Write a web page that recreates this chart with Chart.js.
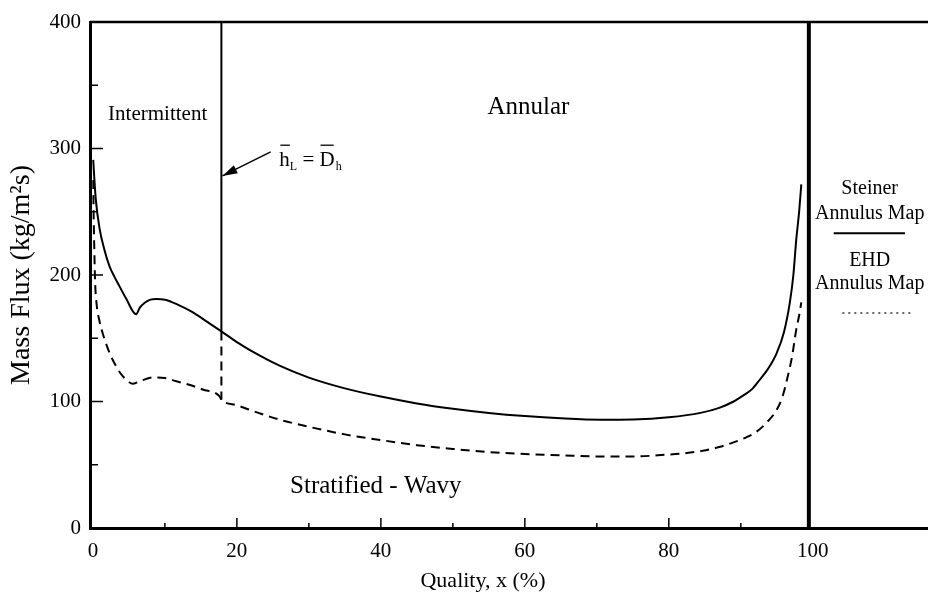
<!DOCTYPE html>
<html>
<head>
<meta charset="utf-8">
<script src="https://cdn.jsdelivr.net/npm/chart.js@4.4.0/dist/chart.umd.min.js"></script>
<style>
  html, body { margin: 0; padding: 0; background: #fff; }
  canvas { display: block; }
</style>
</head>
<body>
<canvas id="flowMap" width="928" height="593"></canvas>
<script>
// Steiner annulus map boundary (solid)
const steinerX = [0.05, 0.15, 0.4, 0.95, 1.6, 2.3, 3.0, 3.7, 4.65, 6.0, 6.5, 7.2, 8.0, 8.8, 10, 12, 13.9, 16, 17.85,
  20, 23, 26, 30, 35, 40, 45, 50, 55, 60, 65, 70.5, 75, 80, 84.4, 87, 89, 90.4, 91.6, 92.6, 93.8, 95.0,
  96.0, 96.8, 97.3, 97.7, 98.1, 98.4]
const steinerY = [291, 281, 260, 236, 220, 207, 198.5, 191, 181, 169, 174, 178, 180.5, 181, 180.5, 176, 170.5, 162.5, 155.4,
  147, 136.8, 128.1, 118.9, 110.4, 103.9, 98.5, 94.3, 91, 88.5, 86.7, 85.6, 85.8, 87.5, 91, 95, 100, 105, 110, 117, 126, 138.5,
  155, 178, 200, 228, 250, 271.6]

// EHD annulus map boundary (dashed)
const ehdX = [0.05, 0.1, 0.2, 0.3, 0.5, 0.9, 1.36, 2.0, 2.75, 3.8, 5.1, 5.5, 6.5, 8.3, 10, 11.6, 13.5, 15.25, 17.6,
  17.85, 20, 23, 25.9, 30, 35, 40, 45, 50, 55, 60, 65, 70.5, 75, 79.7, 82, 84.7, 87, 88.9, 90.7, 92.2, 93.7,
  95.0, 95.8, 96.4, 97.1, 97.7, 98.1, 98.4]
const ehdY = [275, 250, 220, 196, 178, 164, 154, 143, 133, 122.5, 115, 114, 116, 119, 118.5, 116, 113, 109.5, 104,
  101.4, 97, 91, 85.7, 80, 74, 69.5, 65.5, 62.5, 60, 58.5, 57.5, 56.5, 56.5, 58, 59, 61, 64, 67.5, 71.5, 76.2, 84,
  93.6, 104, 117, 135, 156.8, 168, 178.4]

// transition line hL = Dh
const transX = [17.85, 17.85]
const transSolidY = [400, 155.4]
const transDashY = [155.4, 101.4]

// x = 100 % boundary
const edgeX = [99.45, 99.45]
const edgeY = [0, 400]

const xTickValues = [0, 10, 20, 30, 40, 50, 60, 70, 80, 90, 100]
const yTickValues = [0, 50, 100, 150, 200, 250, 300, 350, 400]

const serif = "'Liberation Serif', 'DejaVu Serif', serif"

const pts = (xs, ys) => xs.map((v, i) => ({x: v, y: ys[i]}))

const line = (ctx, x1, y1, x2, y2) => {
    ctx.beginPath()
    ctx.moveTo(x1, y1)
    ctx.lineTo(x2, y2)
    ctx.stroke()
}

const mapDecor = {
    id: 'mapDecor',
    afterDatasetsDraw(chart) {
        const {ctx, chartArea: a, scales: {x, y}} = chart
        const px = v => x.getPixelForValue(v)
        const py = v => y.getPixelForValue(v)
        ctx.save()
        ctx.strokeStyle = '#000'
        ctx.fillStyle = '#000'

        // top frame line
        ctx.lineWidth = 2.5
        line(ctx, a.left, a.top, a.right, a.top)

        // inward ticks
        ctx.lineWidth = 1.5
        y.ticks.forEach(t => {
            if (t.value === 0) return
            const len = t.value % 100 === 0 ? 13 : 8
            line(ctx, a.left, py(t.value), a.left + len, py(t.value))
        })
        x.ticks.forEach(t => {
            if (t.value === 0 || t.value === 100) return
            const len = t.value % 20 === 0 ? 10 : 5
            line(ctx, px(t.value), a.bottom, px(t.value), a.bottom - len)
        })

        // region labels
        ctx.textBaseline = 'alphabetic'
        ctx.textAlign = 'center'
        ctx.font = '21px ' + serif
        ctx.fillText('Intermittent', px(9.0), py(322.5))
        ctx.font = '25px ' + serif
        ctx.fillText('Annular', px(60.5), py(327.5))
        ctx.fillText('Stratified - Wavy', px(39.3), py(28))

        // x axis title
        ctx.font = '22px ' + serif
        ctx.fillText('Quality, x (%)', 483, 587)

        // arrow to the transition line
        const ax1 = px(24.7), ay1 = py(297.3), ax2 = px(17.85) + 1, ay2 = py(278.3)
        ctx.lineWidth = 1.5
        line(ctx, ax1, ay1, ax2, ay2)
        const ang = Math.atan2(ay2 - ay1, ax2 - ax1)
        ctx.beginPath()
        ctx.moveTo(ax2, ay2)
        ctx.lineTo(ax2 - 15 * Math.cos(ang) + 4.5 * Math.sin(ang), ay2 - 15 * Math.sin(ang) - 4.5 * Math.cos(ang))
        ctx.lineTo(ax2 - 15 * Math.cos(ang) - 4.5 * Math.sin(ang), ay2 - 15 * Math.sin(ang) + 4.5 * Math.cos(ang))
        ctx.closePath()
        ctx.fill()

        // h_L = D_h with overbars
        ctx.textAlign = 'left'
        let cx = px(25.9)
        const base = py(286)
        ctx.font = '21px ' + serif
        const hW = ctx.measureText('h').width
        ctx.fillText('h', cx, base)
        ctx.lineWidth = 1.3
        line(ctx, cx + 1, base - 21, cx + hW, base - 21)
        cx += hW
        ctx.font = '12px ' + serif
        ctx.fillText('L', cx, base + 4)
        cx += ctx.measureText('L').width
        ctx.font = '21px ' + serif
        ctx.fillText(' = ', cx, base)
        cx += ctx.measureText(' = ').width
        const dW = ctx.measureText('D').width
        ctx.fillText('D', cx, base)
        line(ctx, cx + 1, base - 21, cx + dW - 1, base - 21)
        cx += dW
        ctx.font = '12px ' + serif
        ctx.fillText('h', cx + 1, base + 4)

        // legend
        ctx.textAlign = 'center'
        ctx.font = '20px ' + serif
        const lx = px(107.9)
        ctx.fillText('Steiner', lx, py(264))
        ctx.fillText('Annulus Map', lx, py(244))
        ctx.fillText('EHD', lx, py(207))
        ctx.fillText('Annulus Map', lx, py(189))
        ctx.lineWidth = 2
        line(ctx, px(102.9), py(233), px(112.8), py(233))
        ctx.lineWidth = 1.4
        ctx.strokeStyle = '#333'
        ctx.setLineDash([2, 4])
        line(ctx, px(104.1), py(170), px(113.9), py(170))
        ctx.restore()
    }
}

const tickFont = {family: serif, size: 21}

new Chart(document.getElementById('flowMap'), {
    type: 'scatter',
    data: {
        datasets: [
            {label: 'Steiner', data: pts(steinerX, steinerY), showLine: true, cubicInterpolationMode: 'monotone', borderColor: '#000', borderWidth: 2, pointRadius: 0},
            {label: 'EHD', data: pts(ehdX, ehdY), showLine: true, cubicInterpolationMode: 'monotone', borderColor: '#000', borderWidth: 2, borderDash: [9, 6], pointRadius: 0},
            {label: 'transition', data: pts(transX, transSolidY), showLine: true, borderColor: '#000', borderWidth: 2, pointRadius: 0},
            {label: 'transition dashed', data: pts(transX, transDashY), showLine: true, borderColor: '#000', borderWidth: 2, borderDash: [9, 6], pointRadius: 0},
            {label: 'x = 100', data: pts(edgeX, edgeY), showLine: true, borderColor: '#000', borderWidth: 4, pointRadius: 0}
        ]
    },
    options: {
        responsive: false,
        animation: false,
        devicePixelRatio: 1,
        layout: {padding: {top: 22, right: 0, left: 0, bottom: 0}},
        plugins: {legend: {display: false}, tooltip: {enabled: false}},
        scales: {
            x: {
                type: 'linear',
                min: -0.4,
                max: 116,
                afterBuildTicks: s => { s.ticks = xTickValues.map(v => ({value: v})) },
                afterFit: s => { s.height = 65 },
                grid: {display: false, drawTicks: false},
                border: {color: '#000', width: 3},
                ticks: {
                    padding: 11,
                    color: '#000',
                    font: tickFont,
                    maxRotation: 0,
                    autoSkip: false,
                    callback: v => v % 20 === 0 ? v : ''
                }
            },
            y: {
                min: 0,
                max: 400,
                afterBuildTicks: s => { s.ticks = yTickValues.map(v => ({value: v})) },
                afterFit: s => { s.width = 90 },
                grid: {display: false, drawTicks: false},
                border: {color: '#000', width: 3},
                ticks: {
                    padding: 9,
                    color: '#000',
                    font: tickFont,
                    autoSkip: false,
                    callback: v => v % 100 === 0 ? v : ''
                },
                title: {
                    display: true,
                    text: 'Mass Flux (kg/m²s)',
                    color: '#000',
                    font: {family: serif, size: 28},
                    padding: {top: 5, bottom: 0}
                }
            }
        }
    },
    plugins: [mapDecor]
})
</script>
</body>
</html>
